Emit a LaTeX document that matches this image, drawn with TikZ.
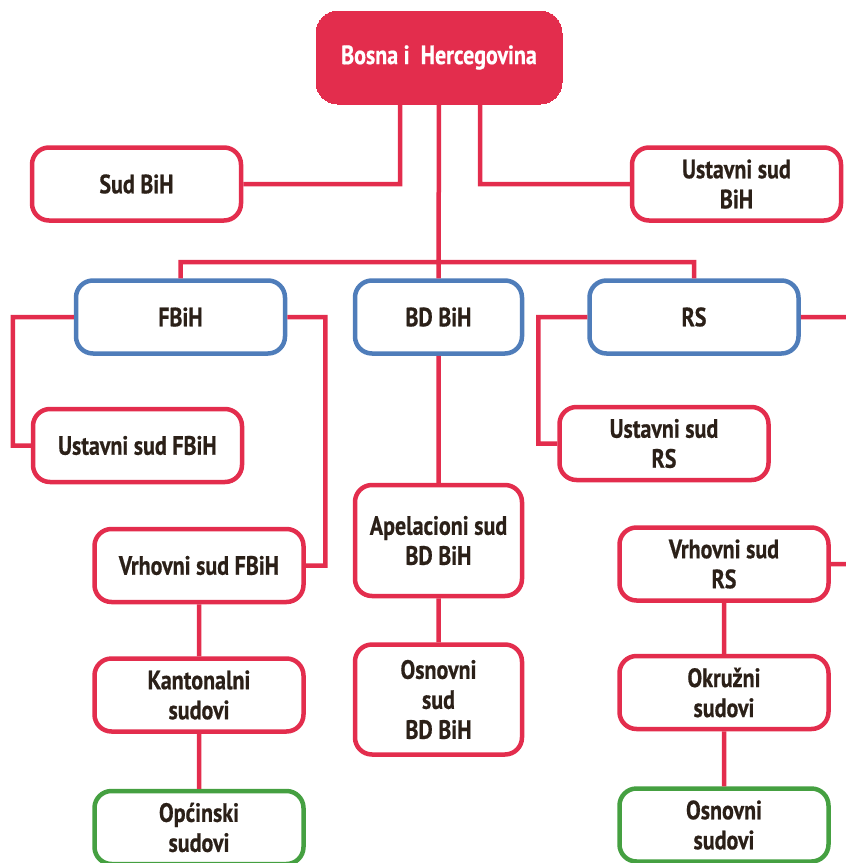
\documentclass[tikz,border=0pt]{standalone}
\usepackage{fontspec}
\setmainfont{PT Sans}[FakeStretch=0.83, BoldFeatures={FakeBold=0.6}]
\usetikzlibrary{positioning,calc}

\definecolor{sudred}{HTML}{E32D4D}
\definecolor{entblue}{HTML}{4F7DBA}
\definecolor{locgreen}{HTML}{45A041}
\definecolor{ink}{HTML}{2B2018}

\begin{document}
\begin{tikzpicture}[x=1pt,y=-1pt,
    box/.style={draw=sudred, line width=4.5pt, rounded corners=17pt, fill=white,
      text=ink, font=\fontsize{26.5}{30}\selectfont\bfseries, align=center,
      minimum width=209pt, minimum height=73pt, inner sep=2pt},
    entity/.style={box, draw=entblue},
    lower/.style={box, draw=locgreen},
    narrow/.style={minimum width=167pt},
    link/.style={draw=sudred, line width=4.5pt}]
    \useasboundingbox (0,0) rectangle (846,863);

    \node[box, fill=sudred, text=white, minimum width=246pt, minimum height=93pt,
      rounded corners=22pt, line width=0pt] (bih) at (439,57.5) {Bosna i\ \ Hercegovina};
    \node[box]                (sudbih)  at (136.5,184) {Sud BiH};
    \node[box]                (ustbih)  at (736.5,184) {Ustavni sud\\BiH};

    \node[entity]             (fbih)    at (180.5,317) {FBiH};
    \node[entity, narrow]     (bd)      at (438.5,317) {BD BiH};
    \node[entity]             (rs)      at (694,317)   {RS};

    \node[box]                (ustfbih) at (137.5,445.5) {Ustavni sud FBiH};
    \node[box]                (vrhfbih) at (199,565.5)   {Vrhovni sud FBiH};
    \node[box]                (kant)    [below=52pt of vrhfbih] {Kantonalni\\sudovi};
    \node[lower]              (opc)     [below=55pt of kant]    {Općinski\\sudovi};

    \node[box, narrow, minimum height=111pt] (apel)  at (438.5,540.5) {Apelacioni sud\\BD BiH};
    \node[box, narrow, minimum height=110pt] (osnbd) [below=44pt of apel] {Osnovni\\sud\\BD BiH};

    \node[box]                (ustrs)   at (664,443.5) {Ustavni sud\\RS};
    \node[box]                (vrhrs)   at (724,564)   {Vrhovni sud\\RS};
    \node[box]                (okr)     [below=51pt of vrhrs] {Okružni\\sudovi};
    \node[lower]              (osnrs)   [below=55pt of okr]   {Osnovni\\sudovi};

    \coordinate (bar)    at (439,262);
    \coordinate (rsout)  at (850,317);
    \coordinate (vrhout) at (850,564);

    \begin{scope}[on background layer/.try]
    \path[link]
    ([xshift=-39pt]bih.south) |- (sudbih.east)
    ([xshift=41pt]bih.south)  |- (ustbih.west)
    (bih.south) -- (bd.north)
    (fbih.north) |- (bar) -| (rs.north)
    (fbih.west) -- ++(-61,0) |- (ustfbih.west)
    (fbih.east) -- ++(38,0)  |- (vrhfbih.east)
    (vrhfbih) -- (kant)
    (kant) -- (opc)
    (bd) -- (apel)
    (apel) -- (osnbd)
    (rs.west) -- ++(-49,0) |- (ustrs.west)
    (rs.east) -- (rsout)
    (vrhrs.east) -- (vrhout)
    (vrhrs) -- (okr)
    (okr) -- (osnrs)
    ;
    \end{scope}
\end{tikzpicture}
\end{document}
